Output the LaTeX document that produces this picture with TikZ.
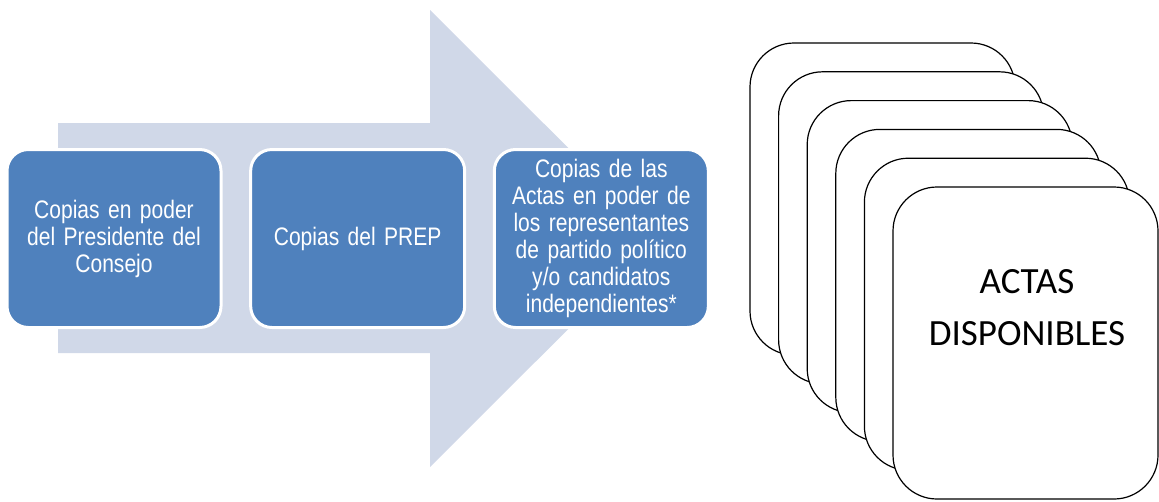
\documentclass[tikz,border=0pt]{standalone}
\usepackage{fontspec}
\setmainfont{Liberation Sans}
\newfontfamily\boxfont[FakeStretch=0.83,WordSpace=0.9]{Liberation Sans}
\newfontfamily\cardfont{Carlito}
\usetikzlibrary{positioning}

\definecolor{arrowgray}{HTML}{D0D8E8}
\definecolor{boxblue}{HTML}{4F81BD}

\tikzset{
  stepbox/.style={draw=white, line width=2.25pt, fill=boxblue, rounded corners=16pt,
    minimum width=160.5pt, minimum height=133.5pt, text width=150pt, align=center,
    text=white, font=\boxfont\fontsize{19}{20.25}\selectfont, inner sep=0pt},
  actacard/.style={draw=black, line width=0.9pt, fill=white, rounded corners=33pt,
    minimum width=198.75pt, minimum height=234pt, inner sep=0pt}
}

\begin{document}
\begin{tikzpicture}[x=0.75pt,y=0.75pt,yscale=-1,xscale=1]
\useasboundingbox (0,0) rectangle (1159,501);

%Shape: Arrow [id:process]
\fill [arrowgray] (58,123) -- (430,123) -- (430,10) -- (659,238.5) -- (430,467) -- (430,353) -- (58,353) -- cycle ;

% Step Nodes
\node [stepbox] (presidente) at (114,238.5) {Copias en poder\\del Presidente del\\Consejo};
\node [stepbox, right=20pt of presidente] (prep) {Copias del PREP};
\node [stepbox, right=20pt of prep] (representantes) {Copias de las\\Actas en poder de\\los representantes\\de partido pol\'itico\\y/o candidatos\\independientes*};

%Shape: Stack of cards
\foreach \i in {0,...,5}
  \node [actacard] (card\i) at (882.5+28.6*\i,199+28.8*\i) {};

% Text Node
\node [font=\cardfont\fontsize{27.75}{39}\selectfont, align=center] (actas) at (1027,307.5) {ACTAS\\DISPONIBLES};

\end{tikzpicture}
\end{document}
